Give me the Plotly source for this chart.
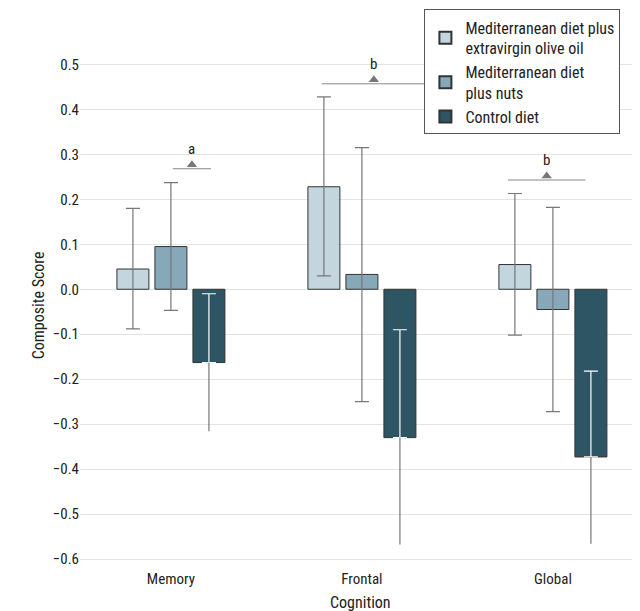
import plotly.graph_objects as go

categories = ["Memory", "Frontal", "Global"]
series = ["Mediterranean diet plus<br>extravirgin olive oil", "Mediterranean diet<br>plus nuts", "Control diet"]
colors = ["#c3d6de", "#86a8b8", "#2e5564"]
values = [[0.045, 0.228, 0.055], [0.095, 0.033, -0.045], [-0.163, -0.330, -0.373]]
upper = [[0.180, 0.428, 0.213], [0.237, 0.315, 0.182], [-0.010, -0.090, -0.182]]
lower = [[-0.088, 0.030, -0.102], [-0.047, -0.250, -0.272], [-0.316, -0.568, -0.566]]
sig_labels = ["a", "b", "b"]
sig_y = [0.268, 0.457, 0.243]
sig_x0 = [0.01, -0.21, -0.235]
sig_x1 = [0.21, 0.335, 0.17]

offsets = [-0.199, 0.0, 0.199]
W = 0.1675
font = "Roboto Condensed, Liberation Sans Narrow, Roboto, sans-serif"
fig = go.Figure()
for s in range(3):
    xs = [i + offsets[s] for i in range(3)]
    up = [upper[s][i] - values[s][i] for i in range(3)]
    lo = [values[s][i] - lower[s][i] for i in range(3)]
    if s < 2:
        err = dict(type="data", array=up, arrayminus=lo, color="#777", thickness=1.2, width=7)
    else:
        err = dict(type="data", array=up, arrayminus=[0]*3, color="white", thickness=1.2, width=7)
    fig.add_trace(go.Bar(x=xs, y=values[s], width=W, name=series[s], marker=dict(color=colors[s], line=dict(color="#333", width=1)), error_y=err))
    if s == 2:
        fig.add_trace(go.Scatter(x=xs, y=values[s], mode="markers", marker=dict(size=1, opacity=0), showlegend=False,
                                 error_y=dict(type="data", array=[0]*3, arrayminus=lo, color="#777", thickness=1.2, width=0)))
for i in range(3):
    fig.add_shape(type="line", x0=i + sig_x0[i], x1=i + sig_x1[i], y0=sig_y[i], y1=sig_y[i], line=dict(color="#888", width=1))
    xm = i + (sig_x0[i] + sig_x1[i]) / 2
    fig.add_trace(go.Scatter(x=[xm], y=[sig_y[i] + 0.009], mode="markers", marker=dict(symbol="triangle-up", size=9, color="#777"), showlegend=False))
    fig.add_annotation(x=xm, y=sig_y[i] + 0.02, text=sig_labels[i], showarrow=False, yanchor="bottom", font=dict(size=15, color="#222", family=font))

fig.add_annotation(xref="paper", yref="paper", x=0.5, y=-0.044, text="Cognition", showarrow=False, yanchor="top", font=dict(size=16))
fig.add_annotation(xref="paper", yref="paper", x=-0.095, y=0.5, text="Composite Score", showarrow=False, textangle=-90, font=dict(size=16))

fig.update_layout(
    width=640, height=611, plot_bgcolor="white", paper_bgcolor="white",
    margin=dict(l=72, r=8, t=34, b=51, autoexpand=False), font=dict(family=font, size=15, color="#222"),
    barmode="overlay", showlegend=True,
    legend=dict(x=0.615, y=1.062, xanchor="left", yanchor="top", bordercolor="#555", borderwidth=1, bgcolor="white",
                font=dict(size=16), traceorder="normal", tracegroupgap=0, itemsizing="constant"),
    xaxis=dict(range=[-0.476, 2.456], tickvals=[0, 1, 2], ticktext=categories, showgrid=False, zeroline=False,
               ticks="", showline=False, automargin=False),
    yaxis=dict(range=[-0.62, 0.55], tickvals=[0.5, 0.4, 0.3, 0.2, 0.1, 0, -0.1, -0.2, -0.3, -0.4, -0.5, -0.6],
               tickformat=".1f", showgrid=True, gridcolor="#e3e3e3", zeroline=False, ticks="", automargin=False),
)
fig.write_html("out.html")
